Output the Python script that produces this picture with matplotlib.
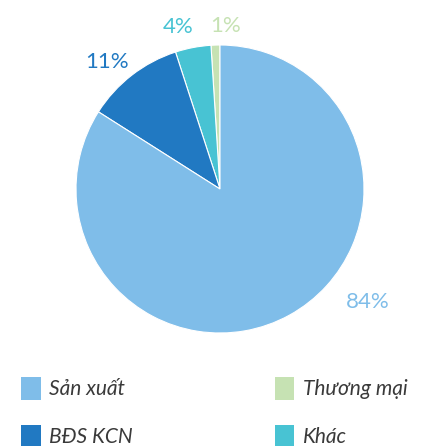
import matplotlib
matplotlib.use("Agg")
import matplotlib.pyplot as plt
import numpy as np

# data (counterclockwise from top)
labels = ["Thương mại", "Khác", "BĐS KCN", "Sản xuất"]
values = [1, 4, 11, 84]
colors = ["#c6e2b3", "#48c3d3", "#2179c2", "#7fbde9"]
pct_text = ["1%", "4%", "11%", "84%"]
# where each percentage label sits (angle in degrees, distance in radii)
label_angle = [88, 104.6, 131.7, -37.4]
label_dist = [1.13, 1.16, 1.18, 1.29]

legend_order = ["Sản xuất", "BĐS KCN", "Thương mại", "Khác"]

plt.rcParams['font.family'] = ['Lato', 'DejaVu Sans']

W, H = 421, 446
fig = plt.figure(figsize=(W / 100, H / 100), dpi=100)

cx, cy, r = 220, 189, 144
ax = fig.add_axes([(cx - r) / W, (H - cy - r) / H, 2 * r / W, 2 * r / H])
wedges, _ = ax.pie(values, colors=colors, startangle=90, counterclock=True,
                   radius=1, wedgeprops=dict(edgecolor="white", linewidth=0.8))
ax.set_xlim(-1, 1)
ax.set_ylim(-1, 1)
ax.set_aspect("equal")
ax.axis("off")

for txt, ang, d, col in zip(pct_text, label_angle, label_dist, colors):
    a = np.deg2rad(ang)
    ax.text(d * np.cos(a), d * np.sin(a), txt, color=col, fontsize=16,
            fontweight="normal", ha="center", va="center", clip_on=False)

# legend
handles = [wedges[labels.index(n)] for n in legend_order]
leg = fig.legend(handles, legend_order, loc="upper left", ncol=2,
                 bbox_to_anchor=(0.05, 0.155), frameon=False,
                 prop=dict(size=15, style="italic", weight="normal"),
                 handlelength=0.95, handleheight=1.3, handletextpad=0.4,
                 columnspacing=6.8, labelspacing=1.22, borderaxespad=0,
                 borderpad=0)
for t in leg.get_texts():
    t.set_color("#3a3a3a")
for h in leg.legend_handles:
    h.set_edgecolor("none")

fig.savefig("out.png", dpi=100)
